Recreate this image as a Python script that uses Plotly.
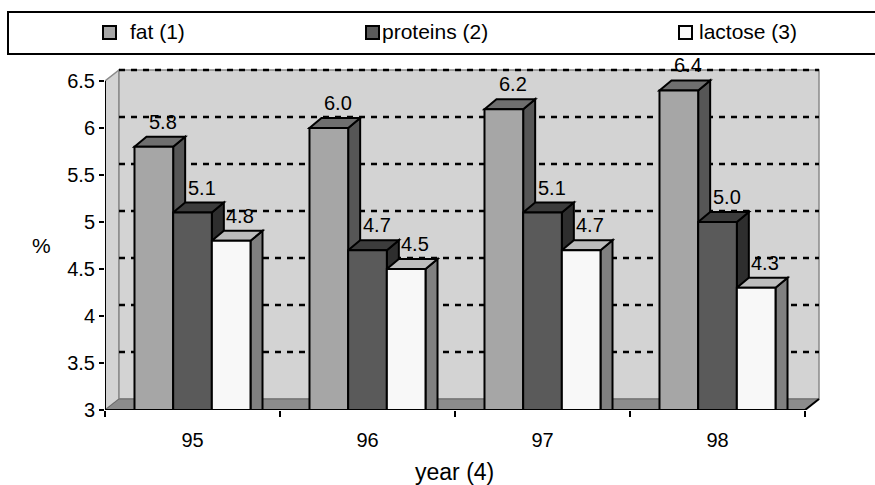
import plotly.graph_objects as go

# ---------------- data ----------------
years = ["95", "96", "97", "98"]
series_names = ["fat (1)", "proteins (2)", "lactose (3)"]
fat = [5.8, 6.0, 6.2, 6.4]
proteins = [5.1, 4.7, 5.1, 5.0]
lactose = [4.8, 4.5, 4.7, 4.3]
y_ticks = [3, 3.5, 4, 4.5, 5, 5.5, 6, 6.5]
x_title = "year (4)"
y_title = "%"

series_values = [fat, proteins, lactose]

# ---------------- styles ----------------
FONT = "Liberation Sans, Arial, sans-serif"
face_colors = [  # front, top, side
    ("#a6a6a6", "#6f6f6f", "#565656"),
    ("#5a5a5a", "#3c3c3c", "#2e2e2e"),
    ("#f8f8f8", "#bdbdbd", "#808080"),
]
WALL = "#d3d3d3"
FLOOR = "#8c8c8c"

# ---------------- geometry ----------------
W, H = 875, 485
L, B = 105, 75
AXIS_PX_X = 700          # pixel length of front x axis
AXIS_PX_Y = 329          # pixel length of front y axis
WALL_DX, WALL_DY = 14, 11
BAR_DX, BAR_DY = 12, 10
PAD_R, PAD_T = 4, 18

X_MIN, X_MAX = -0.5, len(years) - 0.5
Y_MIN, Y_MAX = y_ticks[0], y_ticks[-1]
ux = AXIS_PX_X / (X_MAX - X_MIN)
uy = AXIS_PX_Y / (Y_MAX - Y_MIN)
PW = AXIS_PX_X + WALL_DX + PAD_R
PH = AXIS_PX_Y + WALL_DY + PAD_T
R = W - L - PW
T = H - B - PH

wdx, wdy = WALL_DX / ux, WALL_DY / uy
bdx, bdy = BAR_DX / ux, BAR_DY / uy

GROUP_W = 0.663
BW = GROUP_W / len(series_names)


def px2paper(px, py):
    return (px - L) / PW, (H - B - py) / PH


def poly(pts):
    return "M " + " L ".join(f"{x},{y}" for x, y in pts) + " Z"


fig = go.Figure()
shapes = []
annotations = []

# left wall
shapes.append(dict(type="path", xref="x", yref="y", layer="below",
                   path=poly([(X_MIN, Y_MIN), (X_MIN, Y_MAX), (X_MIN + wdx, Y_MAX + wdy),
                              (X_MIN + wdx, Y_MIN + wdy)]),
                   fillcolor=WALL, line=dict(color="#8a8a8a", width=1.5)))
# back wall
shapes.append(dict(type="rect", xref="x", yref="y", layer="below",
                   x0=X_MIN + wdx, x1=X_MAX + wdx, y0=Y_MIN + wdy, y1=Y_MAX + wdy,
                   fillcolor=WALL, line=dict(color="#8a8a8a", width=1.5)))
# floor
shapes.append(dict(type="path", xref="x", yref="y", layer="below",
                   path=poly([(X_MIN, Y_MIN), (X_MAX, Y_MIN), (X_MAX + wdx, Y_MIN + wdy),
                              (X_MIN + wdx, Y_MIN + wdy)]),
                   fillcolor=FLOOR, line=dict(color="#6a6a6a", width=1)))
shapes.append(dict(type="line", xref="x", yref="y", layer="below",
                   x0=X_MAX, y0=Y_MIN, x1=X_MAX + wdx, y1=Y_MIN + wdy,
                   line=dict(color="black", width=2)))
# gridlines on back wall
for v in y_ticks[1:]:
    shapes.append(dict(type="line", xref="x", yref="y", layer="below",
                       x0=X_MIN + wdx, x1=X_MAX + wdx, y0=v + wdy, y1=v + wdy,
                       line=dict(color="black", width=2.5, dash="6px,6px")))

# bars (front faces via traces) + value labels
for k, (name, vals) in enumerate(zip(series_names, series_values)):
    front, top, side = face_colors[k]
    off = -GROUP_W / 2 + k * BW
    fig.add_trace(go.Bar(
        x=list(range(len(years))), y=vals, name=name, width=BW, offset=off,
        marker=dict(color=front, line=dict(color="black", width=2)),
        showlegend=False, hovertemplate=name + ": %{y:.1f}<extra></extra>"))
    for i, v in enumerate(vals):
        x0 = i + off
        x1 = x0 + BW
        annotations.append(dict(xref="x", yref="y", x=(x0 + x1) / 2 + 9 / ux, y=v + 25 / uy,
                                text=f"{v:.1f}", showarrow=False, xanchor="center", yanchor="middle",
                                font=dict(family=FONT, size=20, color="black")))

# 3D top / side faces
for i in range(len(years)):
    for k, vals in enumerate(series_values):
        front, top, side = face_colors[k]
        v = vals[i]
        x0 = i - GROUP_W / 2 + k * BW
        x1 = x0 + BW
        shapes.append(dict(type="path", xref="x", yref="y", layer="below",
                           path=poly([(x1, Y_MIN), (x1, v), (x1 + bdx, v + bdy), (x1 + bdx, Y_MIN)]),
                           fillcolor=side, line=dict(color="black", width=2)))
        shapes.append(dict(type="path", xref="x", yref="y", layer="below",
                           path=poly([(x0, v), (x1, v), (x1 + bdx, v + bdy), (x0 + bdx, v + bdy)]),
                           fillcolor=top, line=dict(color="black", width=2)))

# front axis lines
shapes.append(dict(type="line", xref="x", yref="y", layer="above",
                   x0=X_MIN, x1=X_MIN, y0=Y_MIN, y1=Y_MAX, line=dict(color="black", width=2)))
shapes.append(dict(type="line", xref="x", yref="y", layer="above",
                   x0=X_MIN, x1=X_MAX, y0=Y_MIN, y1=Y_MIN, line=dict(color="black", width=2)))

# custom legend (box, swatches, labels)
bx0, by0 = px2paper(8, 54)
bx1, by1 = px2paper(890, 12)
shapes.append(dict(type="rect", xref="paper", yref="paper", x0=bx0, x1=bx1, y0=by0, y1=by1,
                   fillcolor="white", line=dict(color="black", width=2), layer="below"))
legend_symbol_px = [103, 366, 679]
legend_text_px = [128, 380, 697]
for k, name in enumerate(series_names):
    sx0, sy0 = px2paper(legend_symbol_px[k], 39)
    sx1, sy1 = px2paper(legend_symbol_px[k] + 13, 26)
    shapes.append(dict(type="rect", xref="paper", yref="paper", x0=sx0, x1=sx1, y0=sy0, y1=sy1,
                       fillcolor=face_colors[k][0], line=dict(color="black", width=2), layer="above"))
    tx, ty = px2paper(legend_text_px[k], 32)
    annotations.append(dict(xref="paper", yref="paper", x=tx, y=ty, text=name, showarrow=False,
                            xanchor="left", yanchor="middle",
                            font=dict(family=FONT, size=21, color="black")))

# axis titles
ax, ay = px2paper(41, 245)
annotations.append(dict(xref="paper", yref="paper", x=ax, y=ay, text=y_title, showarrow=False,
                        xanchor="center", yanchor="middle", font=dict(family=FONT, size=21, color="black")))
tx, ty = px2paper(454, 472)
annotations.append(dict(xref="paper", yref="paper", x=tx, y=ty, text=x_title, showarrow=False,
                        xanchor="center", yanchor="middle", font=dict(family=FONT, size=23, color="black")))

fig.update_layout(
    width=W, height=H,
    margin=dict(l=L, r=R, t=T, b=B, pad=0),
    paper_bgcolor="white", plot_bgcolor="rgba(0,0,0,0)",
    barmode="overlay",
    shapes=shapes, annotations=annotations,
    font=dict(family=FONT, size=20, color="black"),
    xaxis=dict(range=[X_MIN, X_MAX + (WALL_DX + PAD_R) / ux], tickmode="array",
               tickvals=list(range(len(years))), ticktext=years,
               ticks="outside", ticklen=6, tickcolor="rgba(0,0,0,0)", ticklabelstandoff=6,
               minor=dict(tickmode="array", tickvals=[i - 0.5 for i in range(len(years) + 1)],
                          ticks="outside", ticklen=6, tickwidth=2, tickcolor="black", showgrid=False),
               showgrid=False, zeroline=False, showline=False, fixedrange=True,
               tickfont=dict(family=FONT, size=20, color="black")),
    yaxis=dict(range=[Y_MIN, Y_MAX + (WALL_DY + PAD_T) / uy], tickmode="array", tickvals=y_ticks,
               ticks="outside", ticklen=5, tickwidth=2, tickcolor="black",
               showgrid=False, zeroline=False, showline=False, fixedrange=True,
               tickfont=dict(family=FONT, size=20, color="black")),
)

fig.write_html("out.html")
